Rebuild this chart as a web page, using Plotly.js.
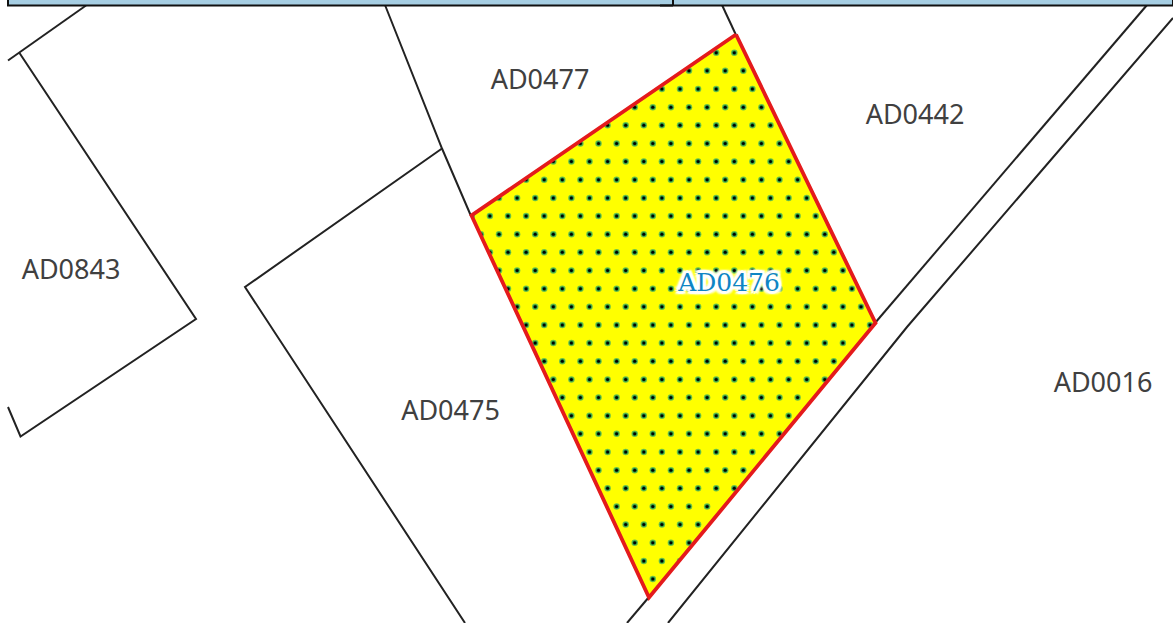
<!DOCTYPE html>
<html><head><meta charset="utf-8">
<script src="https://cdn.plot.ly/plotly-3.0.1.min.js"></script>
<style>html,body{margin:0;padding:0;background:#fff}#c{width:1173px;height:623px}</style>
</head><body><div id="c"></div>
<script>
// parcel outlines (map coordinates)
const parcelX = [86,8,null, 19.5,196,20.5,8,null, 385,442,471,null, 442,245,465,null, 722,736,null, 875,1147,null, 649,627,null, 668,907,1173];
const parcelY = [5.5,60.5,null, 53,319,436.5,407,null, 5,148.5,216,null, 148.5,287,623,null, 5,35,null, 323,5,null, 597,623,null, 623,327,18];
// selected parcel
const selX = [736,875.5,649,471.5,736];
const selY = [34.5,323,597.5,215.5,34.5];
// outside-of-selection mask
const maskX = [0,1173,1173,0,0,736,471.5,649,875.5,736,0];
const maskY = [0,0,623,623,0,34.5,215.5,597.5,323,34.5,0];
// header band
const bandX = [8,1173,1173,8,8];
const bandY = [-2,-2,5.5,5.5,-2];
const bandDivX = [673,673,null,660,673];
const bandDivY = [0,5.5,null,5.5,5.5];
// labels
const labelText = ['AD0477','AD0442','AD0843','AD0475','AD0016'];
const labelX = [540,915,71,450.5,1103];
const labelY = [82,117,272,413.5,385.5];
const selLabel = ['AD0476'];
const selLabelX = [729];
const selLabelY = [285];
// dot hatching, one row per y
const dotY = [52.7,70.85,89,107.15,125.3,143.45,161.6,179.75,197.9,216.05,234.2,252.35,270.5,288.65,306.8,324.95,343.1,361.25,379.4,397.55,415.7,433.85,452,470.15,488.3,506.45,524.6,542.75,560.9,579];
const dotRows = [
[716.2,734.3],
[689,707.1,725.2,743.3],
[661.9,680,698.1,716.2,734.3,752.4],
[634.7,652.8,670.9,689,707.1,725.2,743.3,761.4],
[607.6,625.7,643.8,661.9,680,698.1,716.2,734.3,752.4,770.5],
[580.4,598.5,616.6,634.7,652.8,670.9,689,707.1,725.2,743.3,761.4,779.5],
[553.3,571.4,589.5,607.6,625.7,643.8,661.9,680,698.1,716.2,734.3,752.4,770.5,788.6],
[526.1,544.2,562.3,580.4,598.5,616.6,634.7,652.8,670.9,689,707.1,725.2,743.3,761.4,779.5,797.6],
[499,517.1,535.2,553.3,571.4,589.5,607.6,625.7,643.8,661.9,680,698.1,716.2,734.3,752.4,770.5,788.6,806.7],
[471.8,489.9,508,526.1,544.2,562.3,580.4,598.5,616.6,634.7,652.8,670.9,689,707.1,725.2,743.3,761.4,779.5,797.6,815.7],
[480.9,499,517.1,535.2,553.3,571.4,589.5,607.6,625.7,643.8,661.9,680,698.1,716.2,734.3,752.4,770.5,788.6,806.7,824.8],
[489.9,508,526.1,544.2,562.3,580.4,598.5,616.6,634.7,652.8,670.9,689,707.1,725.2,743.3,761.4,779.5,797.6,815.7,833.8],
[499,517.1,535.2,553.3,571.4,589.5,607.6,625.7,643.8,661.9,680,698.1,716.2,734.3,752.4,770.5,788.6,806.7,824.8,842.9],
[508,526.1,544.2,562.3,580.4,598.5,616.6,634.7,652.8,670.9,689,707.1,725.2,743.3,761.4,779.5,797.6,815.7,833.8,851.9],
[517.1,535.2,553.3,571.4,589.5,607.6,625.7,643.8,661.9,680,698.1,716.2,734.3,752.4,770.5,788.6,806.7,824.8,842.9,861],
[526.1,544.2,562.3,580.4,598.5,616.6,634.7,652.8,670.9,689,707.1,725.2,743.3,761.4,779.5,797.6,815.7,833.8,851.9,870],
[535.2,553.3,571.4,589.5,607.6,625.7,643.8,661.9,680,698.1,716.2,734.3,752.4,770.5,788.6,806.7,824.8,842.9],
[544.2,562.3,580.4,598.5,616.6,634.7,652.8,670.9,689,707.1,725.2,743.3,761.4,779.5,797.6,815.7,833.8],
[553.3,571.4,589.5,607.6,625.7,643.8,661.9,680,698.1,716.2,734.3,752.4,770.5,788.6,806.7,824.8],
[562.3,580.4,598.5,616.6,634.7,652.8,670.9,689,707.1,725.2,743.3,761.4,779.5,797.6],
[571.4,589.5,607.6,625.7,643.8,661.9,680,698.1,716.2,734.3,752.4,770.5,788.6],
[580.4,598.5,616.6,634.7,652.8,670.9,689,707.1,725.2,743.3,761.4,779.5],
[589.5,607.6,625.7,643.8,661.9,680,698.1,716.2,734.3,752.4],
[598.5,616.6,634.7,652.8,670.9,689,707.1,725.2,743.3],
[607.6,625.7,643.8,661.9,680,698.1,716.2,734.3],
[616.6,634.7,652.8,670.9,689,707.1],
[625.7,643.8,661.9,680,698.1],
[634.7,652.8,670.9,689],
[643.8,661.9,680],
[652.8]
];
const dotsX = [], dotsY = [];
dotRows.forEach((row,i)=>row.forEach(x=>{dotsX.push(x);dotsY.push(dotY[i]);}));

const sc = {type:'scatter',hoverinfo:'skip',showlegend:false};
const traces = [
 {...sc,x:selX,y:selY,mode:'lines',fill:'toself',fillcolor:'#ffff00',line:{width:0}},
 {...sc,x:dotsX,y:dotsY,mode:'markers',marker:{size:6.5,color:'#6cc24a',line:{width:0}}},
 {...sc,x:dotsX,y:dotsY,mode:'markers',marker:{size:4.5,color:'#1f8a3a',line:{width:0}}},
 {...sc,x:dotsX,y:dotsY,mode:'markers',marker:{size:3,color:'#000000',line:{width:0}}},
 {...sc,x:maskX,y:maskY,mode:'lines',fill:'toself',fillcolor:'#ffffff',line:{width:0}},
 {...sc,x:parcelX,y:parcelY,mode:'lines',line:{color:'#222222',width:2}},
 {...sc,x:bandX,y:bandY,mode:'lines',fill:'toself',fillcolor:'#a6cee3',line:{color:'#111111',width:2}},
 {...sc,x:bandDivX,y:bandDivY,mode:'lines',line:{color:'#111111',width:2}},
 {...sc,x:selX,y:selY,mode:'lines',line:{color:'#e41a1c',width:3.8}},
 {...sc,x:labelX,y:labelY,text:labelText,mode:'text',textposition:'middle center',
   textfont:{family:'"Noto Sans","Open Sans",sans-serif',size:27,color:'#404040'}},
 {...sc,x:selLabelX,y:selLabelY,text:selLabel,mode:'text',textposition:'middle center',
   textfont:{family:'"DejaVu Serif",serif',size:25,color:'#0f85c4',
     shadow:'3px 0 1px #fff,-3px 0 1px #fff,0 3px 1px #fff,0 -3px 1px #fff,2px 2px 1px #fff,-2px -2px 1px #fff,2px -2px 1px #fff,-2px 2px 1px #fff,3px 3px 2px #fff,-3px -3px 2px #fff,3px -3px 2px #fff,-3px 3px 2px #fff'}}
];
const axis = {visible:false,showgrid:false,zeroline:false,fixedrange:true};
Plotly.newPlot('c',traces,{
 width:1173,height:623,margin:{l:0,r:0,t:0,b:0},
 paper_bgcolor:'#ffffff',plot_bgcolor:'#ffffff',
 xaxis:{...axis,range:[0,1173]},
 yaxis:{...axis,range:[623,0]}
},{displayModeBar:false,staticPlot:true});
</script></body></html>
